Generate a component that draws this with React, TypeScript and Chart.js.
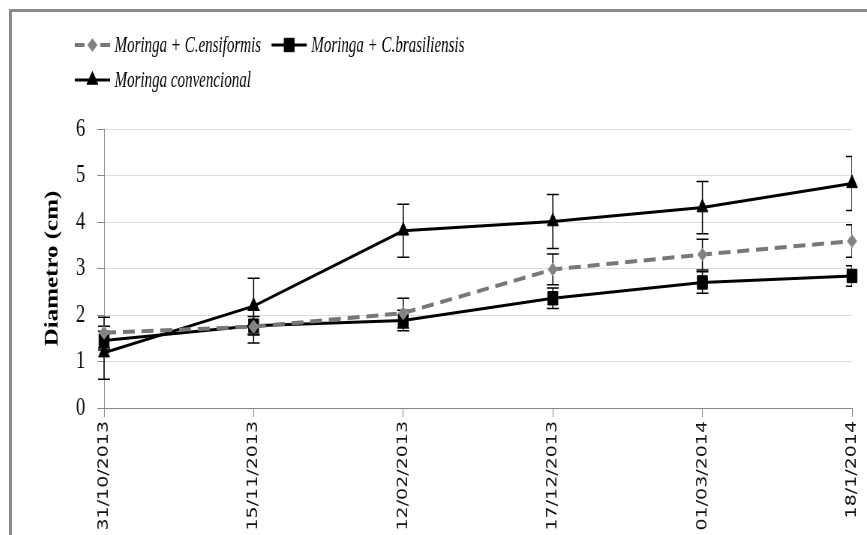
import React, { useEffect, useRef } from 'react';
import { Chart, registerables } from 'chart.js';

Chart.register(...registerables);

// ---------- data ----------
const categories = ['31/10/2013', '15/11/2013', '12/02/2013', '17/12/2013', '01/03/2014', '18/1/2014'];
const seriesLabels = ['Moringa + C.ensiformis', 'Moringa + C.brasiliensis', 'Moringa convencional'];
const ensiformis = [1.62, 1.75, 2.04, 2.98, 3.3, 3.59];
const ensiformisErr = [0.33, 0.35, 0.32, 0.33, 0.33, 0.35];
const brasiliensis = [1.45, 1.77, 1.88, 2.36, 2.7, 2.84];
const brasiliensisErr = [0.2, 0.2, 0.22, 0.22, 0.23, 0.22];
const convencional = [1.19, 2.19, 3.81, 4.01, 4.31, 4.83];
const convencionalErr = [0.57, 0.6, 0.57, 0.58, 0.56, 0.58];
const yMin = 0;
const yMax = 6;
const yStep = 1;
const yTitle = 'Diametro (cm)';

// ---------- layout ----------
const VIEW_W = 859;
const VIEW_H = 527;
const LOGICAL_W = 1145;
const SX = VIEW_W / LOGICAL_W;

function markerPath(ctx: CanvasRenderingContext2D, style: string, x: number, y: number, r: number) {
  ctx.beginPath();
  if (style === 'rectRot') {
    ctx.moveTo(x - r, y);
    ctx.lineTo(x, y - r);
    ctx.lineTo(x + r, y);
    ctx.lineTo(x, y + r);
    ctx.closePath();
  } else if (style === 'rect') {
    const s = r * Math.SQRT1_2;
    ctx.rect(x - s, y - s, 2 * s, 2 * s);
  } else if (style === 'triangle') {
    let rad = 0;
    ctx.moveTo(x + Math.sin(rad) * r, y - Math.cos(rad) * r);
    rad += (2 * Math.PI) / 3;
    ctx.lineTo(x + Math.sin(rad) * r, y - Math.cos(rad) * r);
    rad += (2 * Math.PI) / 3;
    ctx.lineTo(x + Math.sin(rad) * r, y - Math.cos(rad) * r);
    ctx.closePath();
  }
}

const errorBarPlugin = {
  id: 'errorBars',
  beforeDatasetsDraw(chart: any) {
    const { ctx, chartArea, scales } = chart;
    const x = scales.x;
    const y = scales.y;
    ctx.save();
    ctx.beginPath();
    ctx.rect(0, 0, chartArea.right, chart.height);
    ctx.clip();
    ctx.strokeStyle = '#000';
    ctx.lineWidth = 1.5;
    chart.data.datasets.forEach((ds: any) => {
      const errs: number[] = ds.errors || [];
      ds.data.forEach((v: number, i: number) => {
        const e = errs[i];
        if (e == null) return;
        const xp = x.getPixelForValue(i);
        const yt = y.getPixelForValue(v + e);
        const yb = y.getPixelForValue(v - e);
        const cap = 8;
        ctx.beginPath();
        ctx.moveTo(xp, yt);
        ctx.lineTo(xp, yb);
        ctx.moveTo(xp - cap, yt);
        ctx.lineTo(xp + cap, yt);
        ctx.moveTo(xp - cap, yb);
        ctx.lineTo(xp + cap, yb);
        ctx.stroke();
      });
    });
    ctx.restore();
  },
};

const LEGEND_FONT_SIZE = 23;
const LEGEND_TEXT_SX = 0.87;

const legendPlugin = {
  id: 'excelLegend',
  afterDraw(chart: any) {
    const { ctx } = chart;
    const startX = 89;
    const rowY = [37, 72];
    const symW = 47;
    const symGap = 6;
    const itemGap = 14;
    const maxRight = 720;
    ctx.save();
    ctx.font = `italic ${LEGEND_FONT_SIZE}px "Liberation Serif", "Times New Roman", serif`;
    ctx.textBaseline = 'middle';
    ctx.textAlign = 'left';
    let row = 0;
    let cx = startX;
    chart.data.datasets.forEach((ds: any) => {
      const tw = ctx.measureText(ds.label).width * LEGEND_TEXT_SX;
      const itemW = symW + symGap + tw;
      if (cx > startX && cx + itemW > maxRight) {
        row += 1;
        cx = startX;
      }
      const yy = rowY[row] ?? rowY[0] + row * 35;
      ctx.strokeStyle = ds.borderColor;
      ctx.lineWidth = ds.borderWidth;
      ctx.setLineDash([]);
      ctx.beginPath();
      if (ds.borderDash && ds.borderDash.length) {
        ctx.moveTo(cx, yy);
        ctx.lineTo(cx + 13, yy);
        ctx.moveTo(cx + symW - 13, yy);
        ctx.lineTo(cx + symW, yy);
      } else {
        ctx.moveTo(cx, yy);
        ctx.lineTo(cx + symW, yy);
      }
      ctx.stroke();
      markerPath(ctx, ds.pointStyle, cx + symW / 2, yy, ds.pointRadius);
      ctx.fillStyle = ds.pointBackgroundColor;
      ctx.fill();
      ctx.lineWidth = ds.pointBorderWidth;
      ctx.strokeStyle = ds.pointBorderColor;
      ctx.stroke();
      ctx.save();
      ctx.translate(cx + symW + symGap, yy + 1);
      ctx.scale(LEGEND_TEXT_SX, 1);
      ctx.fillStyle = '#000';
      ctx.fillText(ds.label, 0, 0);
      ctx.restore();
      cx += itemW + itemGap;
    });
    ctx.restore();
  },
};

export default function App() {
  const ref = useRef<HTMLCanvasElement>(null);

  useEffect(() => {
    const canvas = ref.current;
    if (!canvas) return;
    const chart = new Chart(canvas, {
      type: 'line',
      data: {
        labels: categories,
        datasets: [
          {
            label: seriesLabels[0],
            data: ensiformis,
            errors: ensiformisErr,
            borderColor: '#777777',
            borderWidth: 4,
            borderDash: [16, 9],
            pointStyle: 'rectRot',
            pointRadius: 6.5,
            pointBackgroundColor: '#828282',
            pointBorderColor: '#a0a0a0',
            pointBorderWidth: 1,
            tension: 0,
            clip: false,
          } as any,
          {
            label: seriesLabels[1],
            data: brasiliensis,
            errors: brasiliensisErr,
            borderColor: '#000',
            borderWidth: 3,
            pointStyle: 'rect',
            pointRadius: 9.5,
            pointBackgroundColor: '#000',
            pointBorderColor: '#000',
            pointBorderWidth: 1,
            tension: 0,
            clip: false,
          } as any,
          {
            label: seriesLabels[2],
            data: convencional,
            errors: convencionalErr,
            borderColor: '#000',
            borderWidth: 3,
            pointStyle: 'triangle',
            pointRadius: 8.5,
            pointBackgroundColor: '#000',
            pointBorderColor: '#000',
            pointBorderWidth: 1,
            tension: 0,
            clip: false,
          } as any,
        ],
      },
      options: {
        responsive: false,
        maintainAspectRatio: false,
        devicePixelRatio: 1,
        animation: false,
        layout: { padding: { left: 45, right: 20, top: 121, bottom: 0 } },
        plugins: {
          legend: { display: false },
          tooltip: { enabled: false },
        },
        scales: {
          x: {
            type: 'category',
            offset: false,
            grid: {
              drawOnChartArea: false,
              drawTicks: true,
              tickLength: 9,
              tickColor: '#868686',
            },
            border: { color: '#868686', width: 1 },
            ticks: {
              autoSkip: false,
              maxRotation: 90,
              minRotation: 90,
              padding: 4,
              color: '#111',
              font: { family: '"DejaVu Sans", sans-serif', size: 19 },
            },
            afterFit: (scale: any) => {
              scale.height = VIEW_H - 400;
              scale.paddingLeft = 0;
              scale.paddingRight = 0;
            },
          },
          y: {
            min: yMin,
            max: yMax,
            grid: {
              color: '#dcdcdc',
              tickColor: '#868686',
              tickLength: 9,
              lineWidth: 1,
            },
            border: { color: '#868686', width: 1 },
            ticks: {
              stepSize: yStep,
              padding: 16,
              color: '#111',
              font: { family: '"Liberation Serif", "Times New Roman", serif', size: 25 },
            },
            title: {
              display: true,
              text: yTitle,
              color: '#000',
              padding: { top: 0, bottom: 0 },
              font: { family: '"Liberation Serif", "Times New Roman", serif', size: 25, weight: 'bold' },
            },
            afterFit: (scale: any) => {
              scale.width = 128 - 45;
              scale.paddingTop = 0;
              scale.paddingBottom = 0;
            },
          },
        },
      },
      plugins: [errorBarPlugin, legendPlugin],
    } as any);
    return () => chart.destroy();
  }, []);

  return (
    <div
      style={{
        position: 'absolute',
        left: 8,
        top: 8,
        width: VIEW_W,
        height: VIEW_H,
        overflow: 'hidden',
        background: '#fff',
      }}
    >
      <div style={{ width: LOGICAL_W, height: VIEW_H, transform: `scaleX(${SX})`, transformOrigin: '0 0' }}>
        <canvas ref={ref} width={LOGICAL_W} height={VIEW_H} style={{ width: LOGICAL_W, height: VIEW_H, display: 'block' }} />
      </div>
      <div
        style={{
          position: 'absolute',
          left: 1,
          top: 1,
          right: 0,
          bottom: 0,
          borderLeft: '3px solid #8a8a8a',
          borderTop: '3px solid #8a8a8a',
          pointerEvents: 'none',
        }}
      />
    </div>
  );
}
